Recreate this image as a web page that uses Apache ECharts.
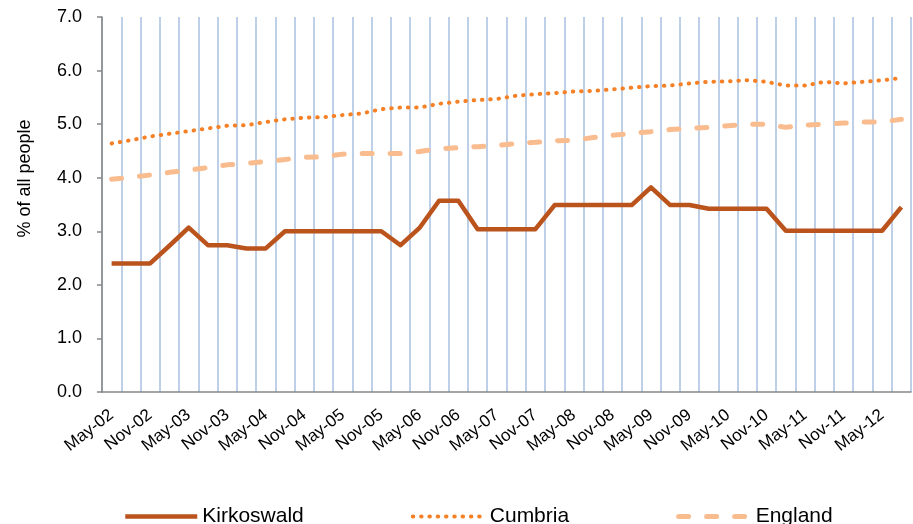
<!DOCTYPE html>
<html>
<head>
<meta charset="utf-8">
<title>Kirkoswald</title>
<script src="https://cdn.jsdelivr.net/npm/echarts@6/dist/echarts.min.js"></script>
<style>
  html, body { margin: 0; padding: 0; background: #fff; }
  #chart { width: 913px; height: 524px; }
</style>
</head>
<body>
<div id="chart"></div>
<script>
// quarterly, May-02 .. Aug-12
var months = ['Feb', 'May', 'Aug', 'Nov'];
var categories = [];
for (var y = 2002; y <= 2012; y++) {
  for (var m = 0; m < 4; m++) {
    if (y == 2002 && m == 0) continue;
    if (y == 2012 && m == 3) continue;
    categories.push(months[m] + '-' + String(y).slice(2));
  }
}

var kirkoswald = [2.40, 2.40, 2.40, 2.73, 3.07, 2.74, 2.74, 2.68, 2.68, 3.00,
  3.00, 3.00, 3.00, 3.00, 3.00, 2.74, 3.07, 3.57, 3.57, 3.04,
  3.04, 3.04, 3.04, 3.49, 3.49, 3.49, 3.49, 3.49, 3.82, 3.49,
  3.49, 3.42, 3.42, 3.42, 3.42, 3.01, 3.01, 3.01, 3.01, 3.01,
  3.01, 3.45];

var cumbria = [4.64, 4.70, 4.77, 4.82, 4.87, 4.92, 4.97, 4.98, 5.04, 5.09,
  5.12, 5.13, 5.17, 5.20, 5.28, 5.31, 5.31, 5.38, 5.42, 5.45,
  5.47, 5.53, 5.56, 5.58, 5.61, 5.62, 5.65, 5.68, 5.71, 5.72,
  5.76, 5.79, 5.80, 5.82, 5.79, 5.72, 5.72, 5.79, 5.76, 5.79,
  5.82, 5.86];

var england = [3.97, 4.01, 4.05, 4.10, 4.14, 4.19, 4.24, 4.27, 4.30, 4.34,
  4.38, 4.39, 4.44, 4.45, 4.45, 4.45, 4.49, 4.54, 4.56, 4.58,
  4.60, 4.64, 4.66, 4.69, 4.70, 4.75, 4.79, 4.83, 4.86, 4.90,
  4.92, 4.94, 4.97, 5.00, 5.00, 4.94, 4.98, 5.00, 5.02, 5.04,
  5.04, 5.09];

var yTicks = [0, 1, 2, 3, 4, 5, 6, 7];

var chart = echarts.init(document.getElementById('chart'));
var font = 'Liberation Sans, Arial, sans-serif';

var cKirk = '#BA531C', cCumb = '#F58025', cEng = '#F9BC8E';

var option = {
  animation: false,
  grid: { left: 102, right: 2, top: 17, bottom: 132 },
  legend: {
    left: 118,
    top: 501,
    itemWidth: 72,
    itemHeight: 14,
    itemGap: 107,
    itemStyle: { opacity: 0 },
    textStyle: { fontFamily: font, fontSize: 21, color: '#000' },
    data: [
      { name: 'Kirkoswald', lineStyle: { width: 4.5 } },
      { name: 'Cumbria', lineStyle: { width: 4 } },
      { name: 'England', lineStyle: { width: 5 } }
    ]
  },
  xAxis: {
    type: 'category',
    data: categories,
    boundaryGap: true,
    axisLine: { lineStyle: { color: '#868686', width: 1.5 } },
    axisTick: { interval: 0, length: 5, lineStyle: { color: '#868686', width: 1.5 } },
    axisLabel: {
      interval: 1,
      rotate: 38,
      margin: 21,
      fontFamily: font,
      fontSize: 17,
      color: '#000'
    },
    splitLine: { show: true, interval: 0, lineStyle: { color: '#BDD0E8', width: 2 } }
  },
  yAxis: {
    type: 'value',
    min: yTicks[0],
    max: yTicks[yTicks.length - 1],
    interval: 1,
    name: '% of all people',
    nameLocation: 'middle',
    nameGap: 68,
    nameTextStyle: { fontFamily: font, fontSize: 18, color: '#000', padding: [0, 0, 0, 52] },
    axisLine: { show: true, lineStyle: { color: '#868686', width: 1.5 } },
    axisTick: { show: true, length: 5, lineStyle: { color: '#868686', width: 1.5 } },
    axisLabel: {
      margin: 20,
      fontFamily: font,
      fontSize: 18,
      color: '#000',
      formatter: function (v) { return v.toFixed(1); }
    },
    splitLine: { show: false }
  },
  series: [
    {
      name: 'Kirkoswald',
      type: 'line',
      data: kirkoswald,
      symbol: 'none',
      z: 4,
      lineStyle: { color: cKirk, width: 4.5, join: 'round' },
      itemStyle: { color: cKirk }
    },
    {
      name: 'Cumbria',
      type: 'line',
      data: cumbria,
      symbol: 'none',
      z: 3,
      lineStyle: { color: cCumb, width: 4, type: [0.5, 7.8], cap: 'round' },
      itemStyle: { color: cCumb }
    },
    {
      name: 'England',
      type: 'line',
      data: england,
      symbol: 'none',
      z: 2,
      lineStyle: { color: cEng, width: 5, type: [10, 18], cap: 'round' },
      itemStyle: { color: cEng }
    }
  ]
};

chart.setOption(option);
</script>
</body>
</html>
